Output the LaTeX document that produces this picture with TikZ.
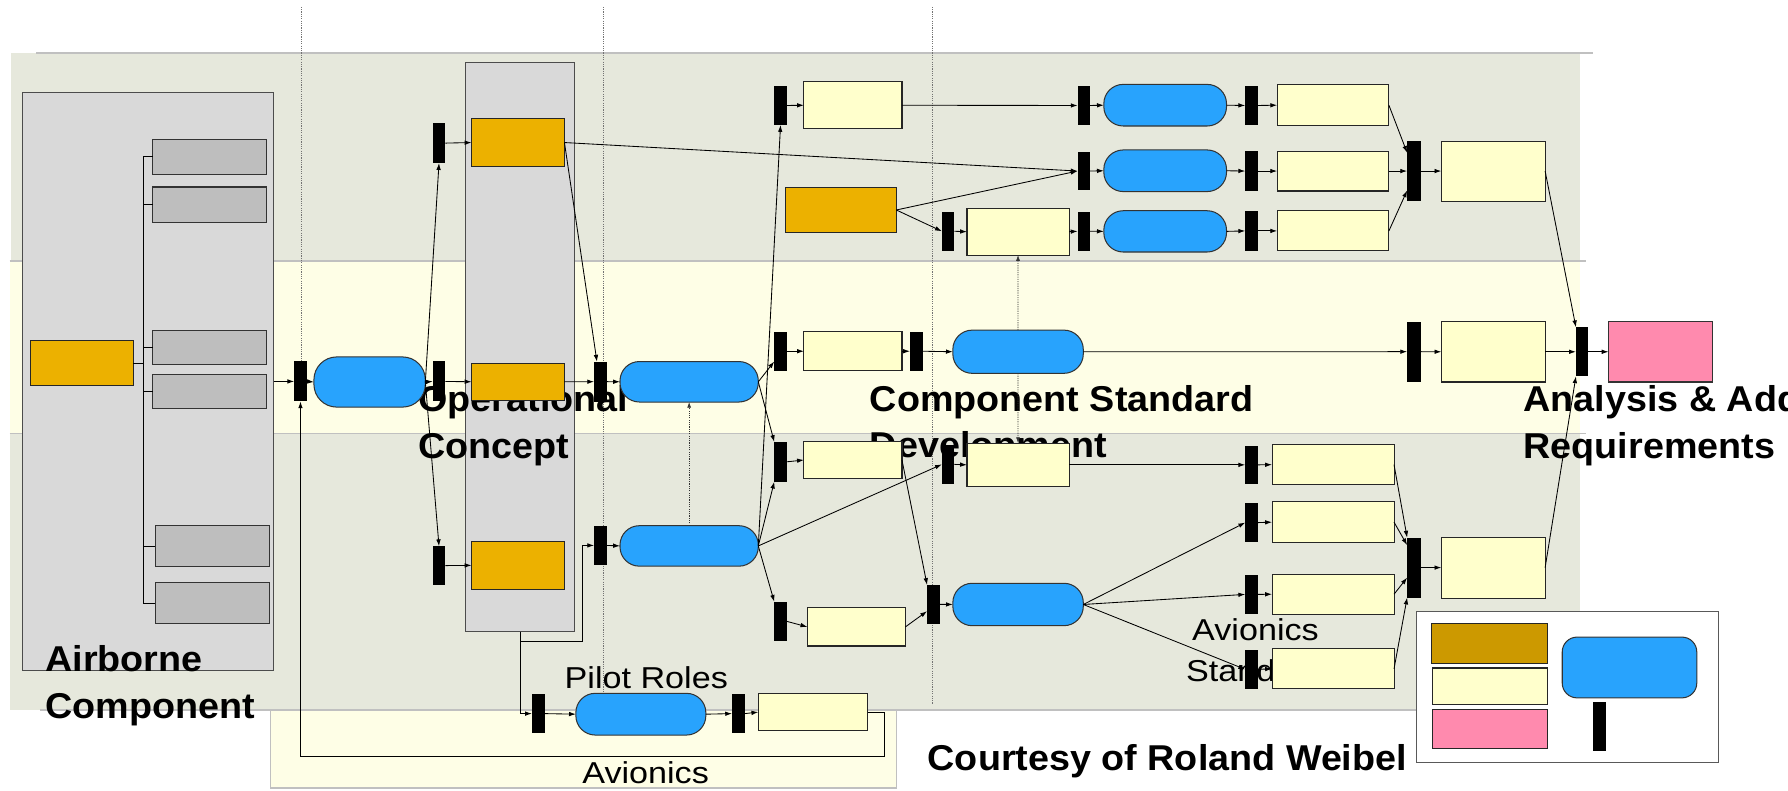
\documentclass[tikz,border=0pt]{standalone}
\usepackage{fontspec}
\setmainfont{Liberation Sans}
\newfontfamily\boldf{Liberation Sans}[FakeStretch=1.05]
\newfontfamily\regf{Liberation Sans}[FakeStretch=1.13]
\usetikzlibrary{arrows.meta,calc}
\definecolor{bandg}{HTML}{E6E8DC}
\definecolor{bandy}{HTML}{FEFEE6}
\definecolor{bandline}{HTML}{C0C0C0}
\definecolor{contg}{HTML}{D9D9D9}
\definecolor{boxg}{HTML}{BEBEBE}
\definecolor{orng}{HTML}{ECB100}
\definecolor{dorng}{HTML}{CC9900}
\definecolor{yel}{HTML}{FFFFCC}
\definecolor{blu}{HTML}{28A3FD}
\definecolor{pnk}{HTML}{FF8AAE}
\tikzset{
  sz/.style 2 args={minimum width=#1pt, minimum height=#2pt, inner sep=0pt, outer sep=0pt},
  barn/.style={fill=black, draw=none, sz={11}{35}},
  ybox/.style={fill=yel, draw=black!85, line width=0.9pt},
  obox/.style={fill=orng, draw=black!85, line width=0.9pt},
  gbox/.style={fill=boxg, draw=black!80, line width=0.9pt},
  cont/.style={fill=contg, draw=black!70, line width=0.9pt},
  pill/.style={fill=blu, draw=black!80, line width=0.9pt, rounded corners=17pt},
  arr/.style={-{Latex[length=6pt,width=4pt]}, line width=0.75pt},
  darr/.style={-{Latex[length=5pt,width=3.5pt]}, line width=0.6pt, black!80, dash pattern=on 1pt off 1pt},
  ttl/.style={font=\boldf\bfseries\fontsize{31.5}{41}\selectfont, inner sep=0pt, align=left, anchor=base west},
  lbl/.style={font=\regf\fontsize{26.5}{36.5}\selectfont, inner sep=0pt, anchor=base west},
  guide/.style={black!55, line width=0.6pt, dash pattern=on 1pt off 1pt},
}
\begin{document}
\begin{tikzpicture}[x=1pt,y=-1pt]
\useasboundingbox (0,0) rectangle (1568,693);
\clip (0,0) rectangle (1568,693);
% bands
\fill[bandg] (10,46.5) rectangle (1386,229);
\fill[bandy] (8.4,229) rectangle (1386,380);
\fill[bandg] (8.4,380) rectangle (1386,622.6);
\draw[bandline, fill=bandy, line width=1pt] (237,622.6) rectangle (786,691);
\draw[bandline, line width=1.3pt] (32,46.5) -- (1397,46.5);
\draw[bandline, line width=1.3pt] (8.4,229) -- (1391,229);
\draw[bandline, line width=1.3pt] (8.4,380) -- (1391,380);
\draw[bandline, line width=1.3pt] (35,622.6) -- (1386,622.6);
% guide lines
\draw[guide] (264,6) -- (264,317);
\draw[guide] (528.8,6) -- (528.8,618);
\draw[guide] (817.4,6) -- (817.4,618);
% containers
\node[cont, sz={220}{507}] (airc) at (130,334.5) {};
\node[cont, sz={95}{499.3}] (ocbox) at (456,304.35) {};
% titles (anchor = baseline of the last line)
\node[ttl] (tair) at (39.6,630) {Airborne\\Component};
\node[ttl] (toc) at (366.9,402) {Operational\\Concept};
\node[ttl] (tcsd) at (762.7,401.6) {Component Standard\\Development};
\node[ttl] (tana) at (1336,402) {Analysis \& Add\\Requirements};
\node[lbl] (tpr) at (495,603.5) {Pilot Roles};
\node[lbl] (tav) at (510.5,686.7) {Avionics};
\node[font=\regf\fontsize{26.5}{36.5}\selectfont, inner sep=0pt, align=center, anchor=base] (tas) at (1101,597.8) {Avionics\\Standard};
\node[ttl] (tcr) at (813.4,675.3) {Courtesy of Roland Weibel};
% airborne component
\node[obox, sz={90}{39}] (aor) at (72,318.5) {};
\node[gbox, sz={100}{31}] (g1) at (183.75,137.5) {};
\node[gbox, sz={100}{31}] (g2) at (183.75,179.5) {};
\node[gbox, sz={100}{30}] (g3) at (183.75,305) {};
\node[gbox, sz={100}{30}] (g4) at (183.75,343) {};
\node[gbox, sz={100.5}{36.4}] (g5) at (186.25,478.8) {};
\node[gbox, sz={100.5}{36}] (g6) at (186.25,529) {};
\coordinate (tr) at (126,137.5);
\draw[line width=0.75pt] (g1.west) -- (tr) -- (tr |- g6.west) -- (g6.west);
\foreach \g in {g2,g3,g4,g5} \draw[line width=0.75pt] (\g.west) -- (\g.west -| tr);
\draw[line width=0.75pt] (aor.east) -- (aor.east -| tr);
% operational concept
\node[obox, sz={81.5}{42}] (octop) at (454.25,125) {};
\node[obox, sz={81.5}{32.5}] (ocmid) at (454.25,334.8) {};
\node[obox, sz={81.5}{41.6}] (ocbot) at (454.25,495.8) {};
\node[barn] (ocbar1) at (385,125.5) {};
\node[barn] (ocbar2) at (385,334.5) {};
\node[barn, sz={11}{34}] (ocbar3) at (385,496) {};
\node[barn] (bar1) at (263.5,334.5) {};
\node[pill, rounded corners=20pt, sz={97.7}{44}] (blue1) at (324.15,335) {};
\node[barn] (bar2) at (526.5,334.7) {};
\node[pill, sz={121.3}{35.5}] (blue2) at (604.35,334.8) {};
\node[barn, sz={11}{34.5}] (bar3) at (526.5,478.3) {};
\node[pill, sz={121.3}{35.5}] (blue3) at (604.35,478.75) {};
% pilot / avionics row
\node[barn, sz={11}{34.4}] (pbar) at (472,625.8) {};
\node[pill, sz={114}{36.6}] (pblue) at (562,626.3) {};
\node[barn, sz={11}{34.4}] (pbar2) at (647.5,625.8) {};
\node[ybox, sz={96}{33}] (pyel) at (713,624.5) {};
% column after blue2/blue3
\node[barn, sz={11}{34.2}] (r1bar) at (684.5,92.5) {};
\node[ybox, sz={86}{41.4}] (r1yel) at (748,92.3) {};
\node[barn, sz={11}{34}] (mbar1) at (684.5,308) {};
\node[ybox, sz={86}{34}] (myel1) at (748,308) {};
\node[barn, sz={11}{34.8}] (b1bar) at (684.5,405) {};
\node[ybox, sz={86}{33.2}] (b1yel) at (748,403.4) {};
\node[barn, sz={11}{34.3}] (b4bar) at (684.5,544.9) {};
\node[ybox, sz={86}{33.5}] (b4yel) at (751,549.75) {};
\node[obox, sz={97}{39}] (orng) at (737.5,184.15) {};
% component standard column
\node[barn, sz={11}{34}] (mbar2) at (803.5,308) {};
\node[pill, sz={114.4}{37.9}] (mblue) at (892.8,308.45) {};
\node[barn, sz={11}{34.4}] (tbar3a) at (831.5,202.8) {};
\node[ybox, sz={89.5}{41}] (tyel3) at (892.75,203.2) {};
\node[barn, sz={11}{34.5}] (b2bar) at (831.5,407.25) {};
\node[ybox, sz={89.5}{38.3}] (b2yel) at (892.75,407.65) {};
\node[barn, sz={11.5}{34}] (b3bar) at (818.75,530) {};
\node[pill, sz={114.4}{37.2}] (b3blue) at (892.8,530.1) {};
% top rows
\node[barn, sz={11}{34.2}] (tbar1) at (950.5,92.5) {};
\node[barn, sz={11}{34}] (tbar2) at (950.5,150) {};
\node[barn, sz={11}{34.4}] (tbar3b) at (950.5,202.8) {};
\node[pill, sz={107.6}{36.5}] (tblue1) at (1021.8,92.25) {};
\node[pill, sz={107.6}{36.5}] (tblue2) at (1021.8,149.75) {};
\node[pill, sz={107.6}{36.2}] (tblue3) at (1021.8,202.9) {};
\node[barn] (tbar1b) at (1097.5,92.5) {};
\node[barn] (tbar2b) at (1097.5,150) {};
\node[barn] (tbar3c) at (1097.5,202.5) {};
\node[ybox, sz={98}{35.5}] (tyel1) at (1169,92.25) {};
\node[ybox, sz={98}{35}] (tyel2) at (1169,150) {};
\node[ybox, sz={98}{35}] (tyel3y) at (1169,202.5) {};
\node[barn, sz={12}{52.6}] (tfbar) at (1240,150) {};
\node[ybox, sz={91}{52.6}] (tfyel) at (1309.5,150) {};
% middle row right
\node[barn, sz={12}{52.7}] (mbar3) at (1240,308.4) {};
\node[ybox, sz={91}{53}] (myel3) at (1309.5,308.5) {};
\node[barn, sz={11}{43}] (mbar4) at (1387.5,308.5) {};
\node[fill=pnk, draw=black!80, line width=0.9pt, sz={90.8}{53}] (pink) at (1456,308.5) {};
% bottom rows right
\node[barn, sz={11}{33.7}] (bb1bar) at (1097.5,407.65) {};
\node[ybox, sz={107}{35}] (bb1yel) at (1169,407.5) {};
\node[barn, sz={11}{34.6}] (bb2bar) at (1097.5,458.3) {};
\node[ybox, sz={107}{35.8}] (bb2yel) at (1169,457.9) {};
\node[barn, sz={11}{34.5}] (bb3bar) at (1097.5,521.25) {};
\node[ybox, sz={107}{35}] (bb3yel) at (1169,521.1) {};
\node[barn, sz={11}{34}] (bb4bar) at (1097.5,587) {};
\node[ybox, sz={107}{35}] (bb4yel) at (1169,586.5) {};
\node[barn, sz={12}{52.5}] (bfbar) at (1240,497.75) {};
\node[ybox, sz={91}{53.5}] (bfyel) at (1309.5,497.75) {};
% legend
\node[fill=white, draw=black!65, line width=0.9pt, sz={265}{133}] (lgbox) at (1374.5,602.5) {};
\node[fill=dorng, draw=black!85, line width=0.9pt, sz={102}{35}] (lgor) at (1306,564.1) {};
\node[ybox, sz={100.4}{31.7}] (lgyel) at (1306.8,601.65) {};
\node[fill=pnk, draw=black!85, line width=0.9pt, sz={100.4}{34.2}] (lgpink) at (1306.8,638.9) {};
\node[pill, rounded corners=13pt, sz={118}{53.3}] (lgblue) at (1429,585.35) {};
\node[barn, sz={11}{43.3}] (lgbar) at (1402.5,637.35) {};
% connectors: left part
\draw[arr] (airc.east |- bar1.west) -- (bar1.west);
\draw[arr] (bar1.east) -- (blue1.west);
\draw[arr] (blue1.east) -- (ocbar2.west);
\draw[arr] (blue1.east) -- (ocbar1.south);
\draw[arr] (blue1.east) -- (ocbar3.north);
\draw[arr] (ocbar1.east) -- (octop.west);
\draw[arr] (ocbar2.east) -- (ocmid.west);
\draw[arr] (ocbar3.east) -- (ocbot.west);
\draw[arr] (octop.east) -- ([xshift=-3pt]bar2.north);
\draw[arr] (ocmid.east) -- (bar2.west);
\draw[arr] (octop.east) -- (tbar2.west);
\draw[arr] (ocbox.south) |- (pbar.west);
\draw[arr] (ocbox.south) -- ++(0,8.7) -- ++(55,0) |- (bar3.west);
\draw[arr] (bar2.east) -- (blue2.west);
\draw[arr] (bar3.east) -- (blue3.west);
\draw[darr] (blue3.north) -- (blue2.south);
\draw[arr] (pbar.east) -- (pblue.west);
\draw[arr] (pblue.east) -- (pbar2.west);
\draw[arr] (pbar2.east) -- (pyel.west);
\coordinate (avc) at (776,663.6);
\draw[arr] (pyel.east) -| (avc) -| (bar1.south);
% fan out of blue2 / blue3
\draw[arr] (blue2.east) -- ([yshift=-9pt]mbar1.west);
\draw[arr] (blue2.east) -- (b1bar.north west);
\draw[arr] (blue3.east) -- (r1bar.south);
\draw[arr] (blue3.east) -- (b1bar.south west);
\draw[arr] (blue3.east) -- (b4bar.north west);
\draw[arr] (blue3.east) -- (b2bar.west);
% top rows
\draw[arr] (r1bar.east) -- (r1yel.west);
\draw[arr] (r1yel.east) -- (tbar1.west);
\draw[arr] (tbar1.east) -- (tblue1.west);
\draw[arr] (tblue1.east) -- (tbar1b.west);
\draw[arr] (tbar1b.east) -- (tyel1.west);
\draw[arr] (orng.east) -- (tbar2.west);
\draw[arr] (orng.east) -- (tbar3a.west);
\draw[arr] (tbar2.east) -- (tblue2.west);
\draw[arr] (tblue2.east) -- (tbar2b.west);
\draw[arr] (tbar2b.east) -- (tyel2.west);
\draw[arr] (tbar3a.east) -- (tyel3.west);
\draw[arr] (tyel3.east) -- (tbar3b.west);
\draw[arr] (tbar3b.east) -- (tblue3.west);
\draw[arr] (tblue3.east) -- (tbar3c.west);
\draw[arr] (tbar3c.east) -- (tyel3y.west);
\draw[arr] (tyel1.east) -- ([yshift=16pt]tfbar.west);
\draw[arr] (tyel2.east) -- (tfbar.west);
\draw[arr] (tyel3y.east) -- ([yshift=-17pt]tfbar.west);
\draw[arr] (tfbar.east) -- (tfyel.west);
\draw[arr] (tfyel.east) -- (mbar4.north west);
% middle row
\draw[arr] (mbar1.east) -- (myel1.west);
\draw[arr] (myel1.east) -- (mbar2.west);
\draw[arr] (mbar2.east) -- (mblue.west);
\draw[arr] (mblue.east) -- (mbar3.west);
\draw[darr] (mblue.north) -- (tyel3.south);
\draw[darr] (mblue.south) -- (b2yel.north);
\draw[arr] (mbar3.east) -- (myel3.west);
\draw[arr] (myel3.east) -- (mbar4.west);
\draw[arr] (mbar4.east) -- (pink.west);
% bottom rows
\draw[arr] (b1bar.east) -- (b1yel.west);
\draw[arr] (b4bar.east) -- (b4yel.west);
\draw[arr] (b1yel.east) -- (b3bar.north west);
\draw[arr] (b4yel.east) -- ([yshift=-6pt]b3bar.west);
\draw[arr] (b3bar.east) -- (b3blue.west);
\draw[arr] (b2bar.east) -- (b2yel.west);
\draw[arr] (b2yel.east) -- (bb1bar.west);
\draw[arr] (b3blue.east) -- (bb2bar.west);
\draw[arr] (b3blue.east) -- (bb3bar.west);
\draw[arr] (b3blue.east) -- (bb4bar.west);
\draw[arr] (bb1bar.east) -- (bb1yel.west);
\draw[arr] (bb2bar.east) -- (bb2yel.west);
\draw[arr] (bb3bar.east) -- (bb3yel.west);
\draw[arr] (bb4bar.east) -- (bb4yel.west);
\draw[arr] (bb1yel.east) -- (bfbar.north west);
\draw[arr] (bb2yel.east) -- ([yshift=19.7pt]bfbar.west);
\draw[arr] (bb3yel.east) -- ([yshift=-8.8pt]bfbar.west);
\draw[arr] (bb4yel.east) -- (bfbar.south west);
\draw[arr] (bfbar.east) -- (bfyel.west);
\draw[arr] (bfyel.east) -- (mbar4.south west);
\end{tikzpicture}
\end{document}
